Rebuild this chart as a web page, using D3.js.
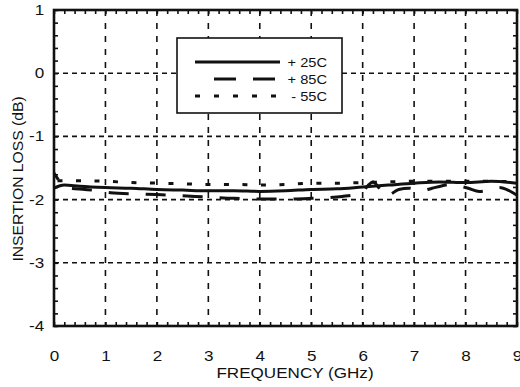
<!DOCTYPE html>
<html>
<head>
<meta charset="utf-8">
<script src="https://cdn.jsdelivr.net/npm/d3@7"></script>
<style>
  body { margin: 0; background: #fff; }
  svg { display: block; }
  text { font-family: "Liberation Sans", Arial, Helvetica, sans-serif; fill: #111; }
</style>
</head>
<body>
<div id="chart"></div>
<script>
'use strict';

// values
var xTicks = [0, 1, 2, 3, 4, 5, 6, 7, 8, 9];
var yTicks = [1, 0, -1, -2, -3, -4];

var freq25 = [0, 0.2, 0.5, 1, 1.5, 2, 2.5, 3, 3.5, 4, 4.5, 5, 5.5, 6, 6.5, 7, 7.5, 8, 8.5, 9];
var loss25 = [-1.82, -1.77, -1.79, -1.81, -1.82, -1.84, -1.85, -1.86, -1.86, -1.87, -1.86, -1.84, -1.83, -1.80, -1.77, -1.74, -1.72, -1.73, -1.71, -1.74];

var freq85 = [0, 0.08, 0.15, 0.3, 0.6, 0.85, 1.1, 1.6, 2, 2.5, 3, 3.5, 4, 4.5, 5, 5.3, 5.6, 5.9, 6.0, 6.1, 6.2, 6.35, 6.45, 6.7, 6.9, 7.15, 7.35, 7.55, 7.7, 7.85, 8.05, 8.27, 8.45, 8.66, 8.85, 9];
var loss85 = [-1.58, -1.68, -1.76, -1.82, -1.84, -1.86, -1.89, -1.91, -1.92, -1.94, -1.96, -1.98, -1.99, -1.99, -1.98, -1.97, -1.95, -1.91, -1.88, -1.78, -1.72, -1.85, -1.95, -1.84, -1.82, -1.86, -1.82, -1.78, -1.76, -1.78, -1.82, -1.87, -1.85, -1.81, -1.86, -1.93];

var freq55 = [0, 0.5, 1, 1.5, 2, 2.5, 3, 3.5, 4, 4.5, 5, 5.5, 6, 6.5, 7, 7.5, 8, 8.5, 9];
var loss55 = [-1.70, -1.70, -1.71, -1.73, -1.74, -1.75, -1.76, -1.76, -1.77, -1.76, -1.74, -1.74, -1.73, -1.72, -1.71, -1.71, -1.71, -1.71, -1.72];

var seriesNames = ['+ 25C', '+ 85C', '- 55C'];

function makeChart(containerSelector) {
  var width = 520;
  var height = 387;
  var left = 54, right = 517, top = 10, bottom = 326;
  var stretch = 'scale(1.22,1)';
  var plain = function(d) { return String(d); };   // keep the hyphen minus

  var svg = d3.select(containerSelector)
              .append('svg')
              .attr('width', width)
              .attr('height', height);

  var x = d3.scaleLinear().domain([0, 9]).range([left, right]);
  var y = d3.scaleLinear().domain([-4, 1]).range([bottom, top]);

  // grid
  svg.append('g')
     .selectAll('line')
     .data(xTicks.slice(1, -1))
     .enter().append('line')
       .attr('x1', function(d) { return x(d); })
       .attr('x2', function(d) { return x(d); })
       .attr('y1', top)
       .attr('y2', bottom)
       .attr('stroke', '#111')
       .attr('stroke-width', 1.6)
       .attr('stroke-dasharray', '6,7');

  svg.append('g')
     .selectAll('line')
     .data(yTicks.slice(1, -1))
     .enter().append('line')
       .attr('x1', left)
       .attr('x2', right)
       .attr('y1', function(d) { return y(d); })
       .attr('y2', function(d) { return y(d); })
       .attr('stroke', '#111')
       .attr('stroke-width', 1.6)
       .attr('stroke-dasharray', '5,4');

  // minor ticks on all four sides, pointing in
  var xMinor = d3.range(0, 9.001, 0.2);
  var yMinor = d3.range(-4, 1.001, 0.2);

  svg.append('g')
     .attr('transform', 'translate(0,' + bottom + ')')
     .call(d3.axisTop(x).tickValues(xMinor).tickSize(4).tickFormat(''));
  svg.append('g')
     .attr('transform', 'translate(0,' + top + ')')
     .call(d3.axisBottom(x).tickValues(xMinor).tickSize(4).tickFormat(''));
  svg.append('g')
     .attr('transform', 'translate(' + left + ',0)')
     .call(d3.axisRight(y).tickValues(yMinor).tickSize(4).tickFormat(''));
  svg.append('g')
     .attr('transform', 'translate(' + right + ',0)')
     .call(d3.axisLeft(y).tickValues(yMinor).tickSize(4).tickFormat(''));

  svg.selectAll('.tick line').attr('stroke', '#111').attr('stroke-width', 1.6);
  svg.selectAll('.domain').remove();

  // tick labels
  svg.append('g')
     .attr('class', 'axis axis--x')
     .attr('transform', 'translate(0,' + bottom + ')')
     .call(d3.axisBottom(x).tickValues(xTicks).tickSize(0).tickPadding(25).tickFormat(plain));
  svg.append('g')
     .attr('class', 'axis axis--y')
     .attr('transform', 'translate(' + left + ',0)')
     .call(d3.axisLeft(y).tickValues(yTicks).tickSize(0).tickPadding(8).tickFormat(plain));

  svg.selectAll('.axis .domain').remove();
  svg.selectAll('.axis text')
     .attr('font-size', 14)
     .attr('fill', '#111')
     .attr('font-family', '"Liberation Sans", Arial, sans-serif')
     .attr('transform', stretch);

  // the curves
  var line = d3.line()
               .x(function(d) { return x(d[0]); })
               .y(function(d) { return y(d[1]); })
               .curve(d3.curveMonotoneX);

  svg.append('path')
     .datum(d3.zip(freq55, loss55))
     .attr('d', line)
     .attr('fill', 'none')
     .attr('stroke', '#111')
     .attr('stroke-width', 3)
     .attr('stroke-dasharray', '5,13.5')
     .attr('stroke-dashoffset', -22);

  svg.append('path')
     .datum(d3.zip(freq85, loss85))
     .attr('d', line)
     .attr('fill', 'none')
     .attr('stroke', '#111')
     .attr('stroke-width', 3)
     .attr('stroke-dasharray', '20,17')
     .attr('stroke-dashoffset', 12);

  svg.append('path')
     .datum(d3.zip(freq25, loss25))
     .attr('d', line)
     .attr('fill', 'none')
     .attr('stroke', '#111')
     .attr('stroke-width', 3);

  // frame
  svg.append('rect')
     .attr('x', left)
     .attr('y', top)
     .attr('width', right - left)
     .attr('height', bottom - top)
     .attr('fill', 'none')
     .attr('stroke', '#111')
     .attr('stroke-width', 2.6);

  // legend
  var legendBox = svg.append('g').attr('class', 'legend');
  legendBox.append('rect')
     .attr('x', 177)
     .attr('y', 38)
     .attr('width', 165)
     .attr('height', 75)
     .attr('fill', '#fff')
     .attr('stroke', '#111')
     .attr('stroke-width', 1.6);

  var dashes = [null, '22,17', '5,14'];
  var legend = legendBox.selectAll('.entry')
     .data(seriesNames)
     .enter().append('g')
       .attr('class', 'entry')
       .attr('transform', function(d, i) { return 'translate(0,' + (62 + i * 17) + ')'; });

  legend.append('line')
     .attr('x1', function(d, i) { return i === 1 ? 214 : 195; })
     .attr('x2', function(d, i) { return i === 1 ? 276 : 280; })
     .attr('stroke', '#111')
     .attr('stroke-width', 3)
     .attr('stroke-dasharray', function(d, i) { return dashes[i]; });

  legend.append('text')
     .attr('transform', 'translate(327,4.5) ' + stretch)
     .attr('text-anchor', 'end')
     .attr('font-size', 12)
     .text(function(d) { return d; });

  // axis titles
  svg.append('text')
     .attr('transform', 'translate(295,378) ' + stretch)
     .attr('text-anchor', 'middle')
     .attr('font-size', 14)
     .text('FREQUENCY (GHz)');

  svg.append('text')
     .attr('transform', 'translate(23,179) rotate(-90) scale(1.12,1)')
     .attr('text-anchor', 'middle')
     .attr('font-size', 14)
     .text('INSERTION LOSS (dB)');
}

makeChart('#chart');
</script>
</body>
</html>
